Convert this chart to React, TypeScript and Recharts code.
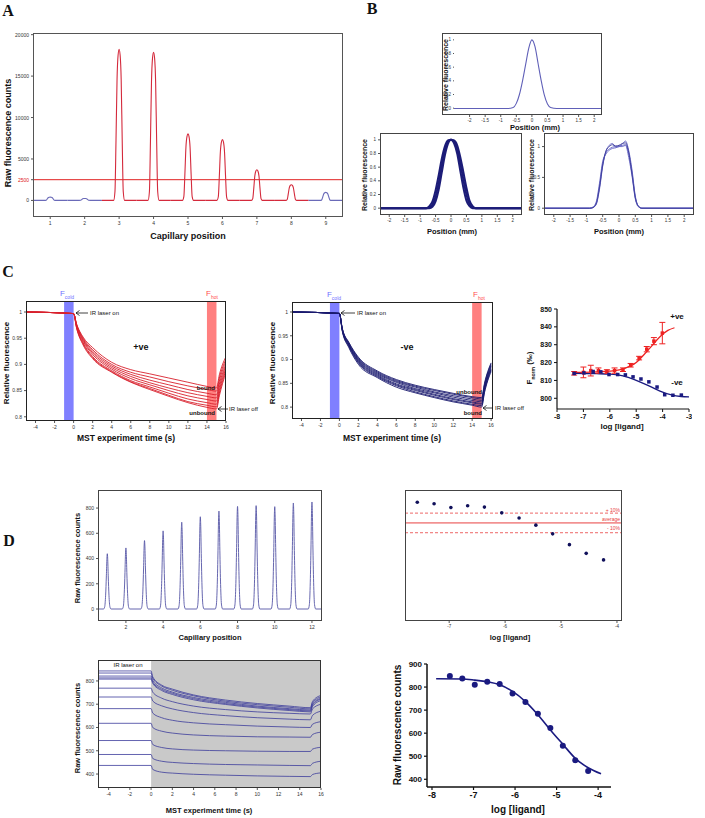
import React from 'react';
import { ComposedChart, Line, Scatter, XAxis, YAxis, ReferenceArea, ReferenceLine, ErrorBar } from 'recharts';

const FONT = '"Liberation Sans", Arial, Helvetica, sans-serif';

// ---------- A: capillary scan ----------
const aCapillaries = [1, 2, 3, 4, 5, 6, 7, 8, 9];
const aPeakCounts = [400, 240, 18240, 17880, 8030, 7340, 3700, 1900, 970];
const aAboveThreshold = [false, false, true, true, true, true, true, true, false];
const aPeakOffsets = [-0.5, -0.16, -0.12, -0.09, -0.06, -0.03, 0, 0.03, 0.06, 0.09, 0.12, 0.16, 0.5];
const aPeakShape = [0, 0, 0.06, 0.4, 0.8, 0.96, 1, 0.96, 0.8, 0.4, 0.06, 0, 0];
const aThreshold = 2500;
const aYTicks = [0, 2500, 5000, 10000, 15000, 20000];

// ---------- B: capillary shape ----------
const bTopX = [-2.5, -0.8, -0.6, -0.5, -0.4, -0.3, -0.2, -0.1, 0, 0.1, 0.2, 0.3, 0.4, 0.5, 0.6, 0.8, 2.25];
const bTopY = [-0.005, -0.005, 0.01, 0.07, 0.2, 0.4, 0.64, 0.88, 1.0, 0.9, 0.65, 0.4, 0.19, 0.06, 0.01, -0.005, -0.005];

const bLeftX = [-2.3, -0.8, -0.7, -0.6, -0.5, -0.4, -0.3, -0.2, -0.1, 0, 0.1, 0.2, 0.3, 0.4, 0.5, 0.6, 0.7, 0.8, 2.3];
const bLeftNarrow = [0, 0, 0, 0.02, 0.1, 0.27, 0.52, 0.77, 0.94, 1, 0.95, 0.8, 0.55, 0.3, 0.11, 0.03, 0, 0, 0];
const bLeftMid = [0, 0, 0.01, 0.05, 0.17, 0.37, 0.62, 0.84, 0.97, 1, 0.97, 0.86, 0.66, 0.42, 0.2, 0.06, 0.01, 0, 0];
const bLeftWide = [0, 0, 0.03, 0.1, 0.26, 0.48, 0.72, 0.9, 0.99, 1, 0.99, 0.92, 0.75, 0.53, 0.3, 0.11, 0.03, 0, 0];

const bRightX = [-2.3, -0.9, -0.8, -0.7, -0.6, -0.5, -0.4, -0.3, -0.2, -0.1, 0, 0.1, 0.2, 0.3, 0.4, 0.5, 0.6, 0.7, 2.3];
const bRight1 = [0, 0, 0.01, 0.08, 0.35, 0.72, 0.9, 0.96, 0.99, 1.0, 1.01, 1.02, 1.03, 0.88, 0.58, 0.18, 0.03, 0, 0];
const bRight2 = [0, 0, 0.01, 0.06, 0.3, 0.68, 0.92, 1.02, 1.05, 0.99, 1.0, 1.04, 1.09, 0.93, 0.62, 0.2, 0.03, 0, 0];
const bRight3 = [0, 0, 0.02, 0.1, 0.4, 0.76, 0.88, 0.94, 0.97, 0.98, 1.0, 1.0, 1.02, 0.82, 0.52, 0.15, 0.02, 0, 0];
const bRight4 = [0, 0, 0.01, 0.07, 0.33, 0.7, 0.93, 1.0, 1.03, 1.01, 1.02, 1.05, 1.06, 0.9, 0.55, 0.17, 0.03, 0, 0];

// ---------- C: MST traces and binding curves ----------
const cTime = [-5, 0, 0.3, 1, 2, 4, 6, 8, 10, 12, 14, 15, 15.3, 16];
const cPositive = [
    [1.0, 0.997, 0.978, 0.952, 0.932, 0.904, 0.890, 0.882, 0.874, 0.866, 0.858, 0.855, 0.880, 0.915],
    [1.0, 0.997, 0.977, 0.950, 0.928, 0.900, 0.885, 0.876, 0.867, 0.859, 0.852, 0.849, 0.874, 0.910],
    [1.0, 0.997, 0.976, 0.948, 0.925, 0.897, 0.881, 0.870, 0.861, 0.852, 0.845, 0.842, 0.868, 0.905],
    [1.0, 0.997, 0.975, 0.946, 0.922, 0.894, 0.877, 0.865, 0.855, 0.846, 0.839, 0.836, 0.862, 0.900],
    [1.0, 0.997, 0.974, 0.944, 0.919, 0.891, 0.873, 0.861, 0.850, 0.840, 0.833, 0.830, 0.856, 0.897],
    [1.0, 0.997, 0.972, 0.941, 0.915, 0.888, 0.869, 0.857, 0.845, 0.834, 0.827, 0.824, 0.850, 0.893],
    [1.0, 0.997, 0.971, 0.939, 0.913, 0.886, 0.867, 0.854, 0.841, 0.829, 0.822, 0.819, 0.845, 0.889],
    [1.0, 0.997, 0.970, 0.937, 0.911, 0.885, 0.866, 0.852, 0.839, 0.827, 0.818, 0.815, 0.840, 0.885],
];
const cNegative = [
    [1.0, 0.997, 0.966, 0.936, 0.905, 0.876, 0.858, 0.846, 0.837, 0.829, 0.822, 0.820, 0.850, 0.893],
    [1.0, 0.997, 0.965, 0.935, 0.903, 0.874, 0.856, 0.844, 0.835, 0.827, 0.820, 0.817, 0.847, 0.891],
    [1.0, 0.997, 0.965, 0.933, 0.901, 0.872, 0.854, 0.842, 0.832, 0.824, 0.817, 0.814, 0.844, 0.888],
    [1.0, 0.997, 0.964, 0.932, 0.899, 0.870, 0.852, 0.839, 0.830, 0.821, 0.814, 0.811, 0.841, 0.886],
    [1.0, 0.997, 0.963, 0.930, 0.897, 0.868, 0.849, 0.837, 0.827, 0.818, 0.811, 0.808, 0.838, 0.883],
    [1.0, 0.997, 0.962, 0.929, 0.895, 0.866, 0.847, 0.835, 0.825, 0.816, 0.809, 0.806, 0.836, 0.880],
    [1.0, 0.997, 0.961, 0.927, 0.893, 0.864, 0.845, 0.832, 0.822, 0.813, 0.806, 0.803, 0.833, 0.878],
    [1.0, 0.997, 0.960, 0.925, 0.890, 0.862, 0.842, 0.830, 0.820, 0.811, 0.804, 0.800, 0.830, 0.875],
];
const cPosLog = [-7.35, -7.0, -6.72, -6.43, -6.11, -5.82, -5.5, -5.21, -4.89, -4.6, -4.33, -4.01];
const cPosFnorm = [814, 814.5, 815.5, 815.5, 815, 815.5, 816, 818.5, 822.5, 827.5, 832, 836.5];
const cPosErr = [1, 3, 3, 1.5, 1, 1.5, 1, 1, 1, 1.5, 2, 6];
const cNegLog = [-7.35, -6.98, -6.63, -6.34, -6.03, -5.7, -5.41, -5.12, -4.82, -4.52, -4.21, -3.92, -3.61, -3.29];
const cNegFnorm = [813.9, 814.2, 815, 814.8, 813.3, 813.3, 813.1, 812, 810.8, 809.2, 806.3, 802, 801.7, 801.8];
const cPosFitX = [-7.35, -6.5, -6, -5.5, -5, -4.7, -4.4, -4.1, -3.8, -3.55];
const cPosFitY = [814.5, 814.8, 815.2, 816.5, 820, 824.5, 829.5, 834.5, 838, 839.5];
const cNegFitX = [-7.35, -6.5, -6, -5.5, -5, -4.5, -4.1, -3.7, -3.3, -2.95];
const cNegFitY = [814, 813.8, 813.5, 812.5, 810, 806.8, 804, 802, 801, 800.8];

// ---------- D: assay optimisation example ----------
const dCapillaries = [1, 2, 3, 4, 5, 6, 7, 8, 9, 10, 11, 12];
const dPeakCounts = [438, 484, 542, 619, 688, 731, 776, 813, 819, 811, 840, 848];
const dPeakOffsets = [-0.2, -0.14, -0.09, -0.05, -0.02, 0, 0.02, 0.05, 0.09, 0.14, 0.2];
const dPeakShape = [0, 0.04, 0.25, 0.6, 0.92, 1, 0.92, 0.6, 0.25, 0.04, 0];
const dLogLigand = [-7.57, -7.27, -6.97, -6.67, -6.37, -6.06, -5.75, -5.45, -5.15, -4.85, -4.55, -4.24];
const dCounts = [848, 837, 810, 823, 813, 772, 735, 684, 622, 545, 483, 436];
const dAverage = 700;
const dPlus10 = 770;
const dMinus10 = 630;
const dTime = [-5, 0, 0.15, 1, 2, 4, 7, 10, 13, 15, 15.2, 16];
const dTraces = [
    [843, 843, 818, 782, 765, 740, 718, 703, 692, 685, 712, 738],
    [834, 834, 812, 778, 760, 736, 713, 698, 687, 680, 706, 732],
    [821, 821, 802, 770, 752, 729, 708, 692, 681, 675, 700, 726],
    [813, 813, 795, 764, 747, 724, 703, 688, 677, 671, 696, 722],
    [808, 808, 790, 759, 742, 719, 699, 684, 673, 667, 690, 716],
    [769, 769, 752, 726, 711, 692, 677, 667, 661, 658, 680, 700],
    [731, 731, 714, 693, 680, 664, 651, 642, 636, 633, 652, 670],
    [681, 681, 662, 642, 631, 620, 612, 606, 602, 600, 614, 625],
    [618, 618, 600, 584, 576, 568, 563, 560, 559, 558, 570, 580],
    [544, 544, 527, 514, 508, 503, 500, 498, 497, 497, 507, 515],
    [484, 484, 467, 455, 450, 445, 441, 439, 437, 436, 446, 455],
    [437, 437, 420, 408, 404, 399, 395, 392, 390, 389, 398, 405],
];
const dFitX = [-7.9, -7.27, -6.97, -6.67, -6.37, -6.06, -5.75, -5.45, -5.15, -4.85, -4.55, -4.24, -3.93];
const dFitY = [836, 835, 830, 823, 810, 781, 737, 680, 614, 552, 491, 450, 424];

// ---------- helpers ----------
const zip = (xs: number[], ys: number[]) => xs.map((x, i) => ({ x, y: ys[i] }));

const aSegments = aCapillaries.map((c, i) => ({
    red: aAboveThreshold[i],
    pts: aPeakOffsets.map((o, j) => ({ x: c + o, y: aPeakCounts[i] * aPeakShape[j] })),
}));

const dScan = [
    { x: 0.5, y: 0 },
    ...dCapillaries.flatMap((c, i) => dPeakOffsets.map((o, j) => ({ x: c + o, y: dPeakCounts[i] * dPeakShape[j] }))),
    { x: 12.5, y: 0 },
];

const PAD = 3;

type PlotProps = { x: number; y: number; w: number; h: number; yW: number; xH: number; children: React.ReactNode };

const Plot = ({ x, y, w, h, yW, xH, children }: PlotProps) => (
    <div style={{ position: 'absolute', left: x - yW - PAD, top: y - PAD }}>
        <ComposedChart width={w + yW + 2 * PAD} height={h + xH + 2 * PAD} margin={{ top: PAD, right: PAD, bottom: PAD, left: PAD }}>
            {children}
        </ComposedChart>
    </div>
);

const Frame = ({ x, y, w, h, color = '#444' }: { x: number; y: number; w: number; h: number; color?: string }) => (
    <div style={{ position: 'absolute', left: x, top: y, width: w, height: h, border: `1px solid ${color}`, boxSizing: 'border-box', pointerEvents: 'none' }} />
);

type TextProps = { x: number; y: number; size?: number; bold?: boolean; color?: string; align?: 'center' | 'left' | 'right'; serif?: boolean; children: React.ReactNode };

const Txt = ({ x, y, size = 8, bold = false, color = '#111', align = 'center', serif = false, children }: TextProps) => {
    const tx = align === 'center' ? '-50%' : align === 'right' ? '-100%' : '0';
    return (
        <div
            style={{
                position: 'absolute', left: x, top: y, whiteSpace: 'nowrap', lineHeight: 1,
                transform: `translate(${tx}, -50%)`,
                fontSize: size, fontWeight: bold ? 700 : 400, color,
                fontFamily: serif ? '"Liberation Serif", "Times New Roman", serif' : FONT,
            }}
        >
            {children}
        </div>
    );
};

const VTitle = ({ x, y, size = 8, children }: { x: number; y: number; size?: number; children: React.ReactNode }) => (
    <div style={{ position: 'absolute', left: x, top: y, width: 0, height: 0 }}>
        <div style={{ position: 'absolute', left: 0, top: 0, transform: 'translate(-50%, -50%) rotate(-90deg)', whiteSpace: 'nowrap', fontFamily: FONT, fontWeight: 700, fontSize: size, color: '#111', lineHeight: 1 }}>
            {children}
        </div>
    </div>
);

const ArrowLeft = ({ tipX, y, len }: { tipX: number; y: number; len: number }) => (
    <svg style={{ position: 'absolute', left: tipX - 1, top: y - 4, overflow: 'visible' }} width={len + 2} height={8}>
        <line x1={1} y1={4} x2={len + 1} y2={4} stroke="#111" strokeWidth={0.8} />
        <polyline points="4.5,1.5 1,4 4.5,6.5" fill="none" stroke="#111" strokeWidth={0.8} />
    </svg>
);

const tiny = { fontSize: 5, fill: '#333', fontFamily: FONT };
const boldTick = (size: number) => ({ fontSize: size, fill: '#111', fontFamily: FONT, fontWeight: 700 });

const ATick = (props: any) => {
    const { x, y, payload } = props;
    return (
        <text x={x} y={y} dy={2} textAnchor="end" fontSize={5} fontFamily={FONT} fill={payload.value === aThreshold ? '#e02020' : '#333'}>
            {payload.value}
        </text>
    );
};

const Sq = (color: string, s: number) => (p: any) => <rect x={p.cx - s / 2} y={p.cy - s / 2} width={s} height={s} fill={color} />;
const Dot = (color: string, r: number) => (p: any) => <circle cx={p.cx} cy={p.cy} r={r} fill={color} />;

const ln = (key: string, pts: { x: number; y: number }[], stroke: string, width = 1) => (
    <Line key={key} data={pts} dataKey="y" type="monotone" stroke={stroke} strokeWidth={width} dot={false} isAnimationActive={false} />
);

const App = () => {
    return (
        <div style={{ position: 'absolute', left: 0, top: 0, width: 705, height: 818, background: '#fff', overflow: 'hidden', fontFamily: FONT }}>
            {/* panel letters */}
            <Txt x={8} y={11} size={16} bold serif>A</Txt>
            <Txt x={372} y={9} size={16} bold serif>B</Txt>
            <Txt x={8} y={272} size={16} bold serif>C</Txt>
            <Txt x={9} y={541} size={16} bold serif>D</Txt>

            {/* ---------- A ---------- */}
            <Plot x={33} y={33} w={310} h={184} yW={26} xH={14}>
                <XAxis type="number" dataKey="x" domain={[0.5, 9.5]} ticks={aCapillaries} allowDataOverflow interval={0} height={14} axisLine={false} tickSize={2} tick={tiny} tickLine={{ stroke: '#555' }} />
                <YAxis type="number" dataKey="y" domain={[-2000, 20200]} ticks={aYTicks} allowDataOverflow interval={0} width={26} axisLine={false} tickSize={2} tick={<ATick />} tickLine={{ stroke: '#555' }} />
                <ReferenceLine y={aThreshold} stroke="#e02020" strokeWidth={1} />
                {aSegments.map((s, i) => ln(`a${i}`, s.pts, s.red ? '#d42a3c' : '#6a6ab8', 1.1))}
            </Plot>
            <Frame x={33} y={33} w={310} h={184} color="#555" />
            <VTitle x={8} y={133} size={9}>Raw fluorescence counts</VTitle>
            <Txt x={188} y={236} size={9} bold>Capillary position</Txt>

            {/* ---------- B ---------- */}
            <Plot x={454} y={33} w={148} h={82} yW={10} xH={12}>
                <XAxis type="number" dataKey="x" domain={[-2.5, 2.25]} ticks={[-2, -1.5, -1, -0.5, 0, 0.5, 1, 1.5, 2]} allowDataOverflow interval={0} height={12} axisLine={false} tickSize={2} tick={{ ...tiny, fontSize: 4.5 }} tickLine={{ stroke: '#555' }} />
                <YAxis type="number" dataKey="y" domain={[-0.1, 1.1]} ticks={[0, 0.2, 0.4, 0.6, 0.8, 1]} allowDataOverflow interval={0} width={10} axisLine={false} tickSize={1} tick={{ ...tiny, fontSize: 4.5 }} tickLine={{ stroke: '#555' }} />
                {ln('bt', zip(bTopX, bTopY), '#6060b8', 1.1)}
            </Plot>
            <Frame x={442} y={33} w={160} h={82} color="#444" />
            <VTitle x={445} y={75} size={7}>Relative fluorescence</VTitle>
            <Txt x={535} y={128} size={7.5} bold>Position (mm)</Txt>

            <Plot x={380} y={133} w={142} h={82} yW={14} xH={12}>
                <XAxis type="number" dataKey="x" domain={[-2.3, 2.3]} ticks={[-2, -1.5, -1, -0.5, 0, 0.5, 1, 1.5, 2]} allowDataOverflow interval={0} height={12} axisLine={false} tickSize={2} tick={{ ...tiny, fontSize: 4.5 }} tickLine={{ stroke: '#555' }} />
                <YAxis type="number" dataKey="y" domain={[-0.1, 1.1]} ticks={[0, 0.2, 0.4, 0.6, 0.8, 1]} allowDataOverflow interval={0} width={14} axisLine={false} tickSize={2} tick={{ ...tiny, fontSize: 4.5 }} tickLine={{ stroke: '#555' }} />
                {ln('bl1', zip(bLeftX, bLeftWide), '#1c1c78', 2)}
                {ln('bl2', zip(bLeftX, bLeftMid), '#1c1c78', 2)}
                {ln('bl3', zip(bLeftX, bLeftNarrow), '#1c1c78', 2)}
            </Plot>
            <Frame x={380} y={133} w={142} h={82} color="#444" />
            <VTitle x={364} y={175} size={7}>Relative fluorescence</VTitle>
            <Txt x={452} y={232} size={7.5} bold>Position (mm)</Txt>

            <Plot x={544} y={133} w={150} h={82} yW={14} xH={12}>
                <XAxis type="number" dataKey="x" domain={[-2.3, 2.3]} ticks={[-2, -1.5, -1, -0.5, 0, 0.5, 1, 1.5, 2]} allowDataOverflow interval={0} height={12} axisLine={false} tickSize={2} tick={{ ...tiny, fontSize: 4.5 }} tickLine={{ stroke: '#555' }} />
                <YAxis type="number" dataKey="y" domain={[-0.11, 1.22]} ticks={[0, 0.5, 1]} allowDataOverflow interval={0} width={14} axisLine={false} tickSize={2} tick={{ ...tiny, fontSize: 4.5 }} tickLine={{ stroke: '#555' }} />
                {ln('br1', zip(bRightX, bRight1), '#6464c4', 0.9)}
                {ln('br2', zip(bRightX, bRight2), '#6464c4', 0.9)}
                {ln('br3', zip(bRightX, bRight3), '#6464c4', 0.9)}
                {ln('br4', zip(bRightX, bRight4), '#3a3a98', 0.9)}
            </Plot>
            <Frame x={544} y={133} w={150} h={82} color="#444" />
            <VTitle x={531} y={175} size={7}>Relative fluorescence</VTitle>
            <Txt x={619} y={232} size={7.5} bold>Position (mm)</Txt>

            {/* ---------- C left (+ve) ---------- */}
            <Plot x={26} y={301} w={200} h={120} yW={18} xH={12}>
                <XAxis type="number" dataKey="x" domain={[-5, 16]} ticks={[-4, -2, 0, 2, 4, 6, 8, 10, 12, 14, 16]} allowDataOverflow interval={0} height={12} axisLine={false} tickSize={2} tick={tiny} tickLine={{ stroke: '#555' }} />
                <YAxis type="number" dataKey="y" domain={[0.792, 1.021]} ticks={[0.8, 0.85, 0.9, 0.95, 1]} allowDataOverflow interval={0} width={18} axisLine={false} tickSize={2} tick={tiny} tickLine={{ stroke: '#555' }} />
                <ReferenceArea x1={-1} x2={0} fill="#8080ff" fillOpacity={1} stroke="none" />
                <ReferenceArea x1={14} x2={15} fill="#ff8080" fillOpacity={1} stroke="none" />
                {cPositive.map((t, i) => ln(`cp${i}`, zip(cTime, t), '#d8202c', 0.9))}
            </Plot>
            <Frame x={26} y={301} w={200} h={120} color="#222" />
            <Txt x={67} y={295} size={8} color="#7070ff">F<sub style={{ fontSize: 5 }}>cold</sub></Txt>
            <Txt x={212} y={295} size={8} color="#ff5050">F<sub style={{ fontSize: 5 }}>hot</sub></Txt>
            <ArrowLeft tipX={76} y={313} len={12} />
            <Txt x={90} y={313} size={6} align="left">IR laser on</Txt>
            <Txt x={141} y={347} size={9} bold>+ve</Txt>
            <Txt x={215} y={388} size={6} bold align="right">bound</Txt>
            <Txt x={215} y={413} size={6} bold align="right">unbound</Txt>
            <ArrowLeft tipX={218} y={409} len={10} />
            <Txt x={229} y={409} size={6} align="left">IR laser off</Txt>
            <VTitle x={7} y={363} size={8}>Relative fluorescence</VTitle>
            <Txt x={126} y={438} size={8.5} bold>MST experiment time (s)</Txt>

            {/* ---------- C middle (-ve) ---------- */}
            <Plot x={292} y={302} w={201} h={117} yW={18} xH={12}>
                <XAxis type="number" dataKey="x" domain={[-5, 16.2]} ticks={[-4, -2, 0, 2, 4, 6, 8, 10, 12, 14, 16]} allowDataOverflow interval={0} height={12} axisLine={false} tickSize={2} tick={tiny} tickLine={{ stroke: '#555' }} />
                <YAxis type="number" dataKey="y" domain={[0.775, 1.021]} ticks={[0.8, 0.85, 0.9, 0.95, 1]} allowDataOverflow interval={0} width={18} axisLine={false} tickSize={2} tick={tiny} tickLine={{ stroke: '#555' }} />
                <ReferenceArea x1={-1} x2={0} fill="#8080ff" fillOpacity={1} stroke="none" />
                <ReferenceArea x1={14} x2={15} fill="#ff8080" fillOpacity={1} stroke="none" />
                {cNegative.map((t, i) => ln(`cn${i}`, zip(cTime, t), '#1a1a6e', 0.9))}
            </Plot>
            <Frame x={292} y={302} w={201} h={117} color="#222" />
            <Txt x={334} y={296} size={8} color="#7070ff">F<sub style={{ fontSize: 5 }}>cold</sub></Txt>
            <Txt x={479} y={296} size={8} color="#ff5050">F<sub style={{ fontSize: 5 }}>hot</sub></Txt>
            <ArrowLeft tipX={341} y={313} len={14} />
            <Txt x={357} y={313} size={6} align="left">IR laser on</Txt>
            <Txt x={407} y={347} size={9} bold>-ve</Txt>
            <Txt x={482} y={392} size={6} bold align="right">unbound</Txt>
            <Txt x={482} y={413} size={6} bold align="right">bound</Txt>
            <ArrowLeft tipX={483} y={408} len={10} />
            <Txt x={495} y={408} size={6} align="left">IR laser off</Txt>
            <VTitle x={273} y={363} size={8}>Relative fluorescence</VTitle>
            <Txt x={392} y={438} size={8.5} bold>MST experiment time (s)</Txt>

            {/* ---------- C right (binding curves) ---------- */}
            <Plot x={557} y={309} w={132} h={100} yW={22} xH={14}>
                <XAxis type="number" dataKey="x" domain={[-8, -3]} ticks={[-8, -7, -6, -5, -4, -3]} allowDataOverflow interval={0} height={14} axisLine={{ stroke: '#111', strokeWidth: 1.2 }} tickSize={3} tick={boldTick(7)} tickLine={{ stroke: '#111' }} />
                <YAxis type="number" dataKey="y" domain={[794, 850]} ticks={[800, 810, 820, 830, 840, 850]} allowDataOverflow interval={0} width={22} axisLine={{ stroke: '#111', strokeWidth: 1.2 }} tickSize={3} tick={boldTick(7)} tickLine={{ stroke: '#111' }} />
                {ln('cfp', zip(cPosFitX, cPosFitY), '#ee2222', 1.3)}
                {ln('cfn', zip(cNegFitX, cNegFitY), '#1a1a80', 1.3)}
                <Scatter data={cPosLog.map((x, i) => ({ x, y: cPosFnorm[i], err: cPosErr[i] }))} dataKey="y" fill="#ee2222" isAnimationActive={false} shape={Sq('#ee2222', 3.5)}>
                    <ErrorBar dataKey="err" direction="y" width={3} stroke="#ee2222" strokeWidth={1} />
                </Scatter>
                <Scatter data={zip(cNegLog, cNegFnorm)} dataKey="y" fill="#1a1a80" isAnimationActive={false} shape={Sq('#1a1a80', 3.5)} />
            </Plot>
            <Txt x={677} y={317} size={8} bold>+ve</Txt>
            <Txt x={677} y={383} size={8} bold>-ve</Txt>
            <VTitle x={531} y={368} size={8}>F<sub style={{ fontSize: 5 }}>norm</sub> (‰)</VTitle>
            <Txt x={622} y={427} size={8} bold>log [ligand]</Txt>

            {/* ---------- D top-left ---------- */}
            <Plot x={98} y={490} w={224} h={131} yW={16} xH={12}>
                <XAxis type="number" dataKey="x" domain={[0.5, 12.54]} ticks={[2, 4, 6, 8, 10, 12]} allowDataOverflow interval={0} height={12} axisLine={false} tickSize={2} tick={tiny} tickLine={{ stroke: '#555' }} />
                <YAxis type="number" dataKey="y" domain={[-95, 943]} ticks={[0, 200, 400, 600, 800]} allowDataOverflow interval={0} width={16} axisLine={false} tickSize={2} tick={tiny} tickLine={{ stroke: '#555' }} />
                {ln('dscan', dScan, '#5656a6', 0.9)}
            </Plot>
            <Frame x={98} y={490} w={224} h={131} color="#444" />
            <VTitle x={78} y={558} size={7.5}>Raw fluorescence counts</VTitle>
            <Txt x={210} y={638} size={7.5} bold>Capillary position</Txt>

            {/* ---------- D top-right ---------- */}
            <Plot x={405} y={490} w={217} h={131} yW={0} xH={12}>
                <XAxis type="number" dataKey="x" domain={[-7.79, -3.91]} ticks={[-7, -6, -5, -4]} allowDataOverflow interval={0} height={12} axisLine={false} tickSize={2} tick={{ ...tiny, fontSize: 4.5 }} tickLine={{ stroke: '#555' }} />
                <YAxis type="number" dataKey="y" domain={[0, 935]} allowDataOverflow hide />
                <ReferenceLine y={dPlus10} stroke="#e84040" strokeDasharray="3 2" strokeWidth={0.8} />
                <ReferenceLine y={dAverage} stroke="#e84040" strokeWidth={1} />
                <ReferenceLine y={dMinus10} stroke="#e84040" strokeDasharray="3 2" strokeWidth={0.8} />
                <Scatter data={zip(dLogLigand, dCounts)} dataKey="y" fill="#10105a" isAnimationActive={false} shape={Dot('#10105a', 1.8)} />
            </Plot>
            <Frame x={405} y={490} w={217} h={131} color="#444" />
            <Txt x={620} y={510} size={5} color="#e84040" align="right">+ 10%</Txt>
            <Txt x={620} y={519} size={5} color="#e84040" align="right">average</Txt>
            <Txt x={620} y={528} size={5} color="#e84040" align="right">- 10%</Txt>
            <Txt x={510} y={638} size={7.5} bold>log [ligand]</Txt>

            {/* ---------- D bottom-left ---------- */}
            <Plot x={98} y={660} w={223} h={128} yW={16} xH={12}>
                <XAxis type="number" dataKey="x" domain={[-5, 16]} ticks={[-4, -2, 0, 2, 4, 6, 8, 10, 12, 14, 16]} allowDataOverflow interval={0} height={12} axisLine={false} tickSize={2} tick={tiny} tickLine={{ stroke: '#555' }} />
                <YAxis type="number" dataKey="y" domain={[340, 890]} ticks={[400, 500, 600, 700, 800]} allowDataOverflow interval={0} width={16} axisLine={false} tickSize={2} tick={tiny} tickLine={{ stroke: '#555' }} />
                <ReferenceArea x1={0} x2={16} fill="#c9c9c9" fillOpacity={1} stroke="none" />
                {dTraces.map((t, i) => ln(`dt${i}`, zip(dTime, t), '#3c3c9c', 0.8))}
            </Plot>
            <Frame x={98} y={660} w={223} h={128} color="#333" />
            <Txt x={128} y={665} size={6}>IR laser on</Txt>
            <VTitle x={78} y={728} size={7.5}>Raw fluorescence counts</VTitle>
            <Txt x={209} y={811} size={7.5} bold>MST experiment time (s)</Txt>

            {/* ---------- D bottom-right ---------- */}
            <Plot x={427} y={664} w={184} h={123} yW={26} xH={16}>
                <XAxis type="number" dataKey="x" domain={[-8.12, -3.69]} ticks={[-8, -7, -6, -5, -4]} allowDataOverflow interval={0} height={16} axisLine={{ stroke: '#111', strokeWidth: 1.5 }} tickSize={3} tick={boldTick(9)} tickLine={{ stroke: '#111', strokeWidth: 1.2 }} />
                <YAxis type="number" dataKey="y" domain={[366.5, 900]} ticks={[400, 500, 600, 700, 800, 900]} allowDataOverflow interval={0} width={26} axisLine={{ stroke: '#111', strokeWidth: 1.5 }} tickSize={3} tick={boldTick(8)} tickLine={{ stroke: '#111', strokeWidth: 1.2 }} />
                {ln('dfit', zip(dFitX, dFitY), '#1a1a80', 1.6)}
                <Scatter data={zip(dLogLigand, dCounts)} dataKey="y" fill="#1a1a80" isAnimationActive={false} shape={Dot('#1a1a80', 3)} />
            </Plot>
            <VTitle x={398} y={725} size={10}>Raw fluorescence counts</VTitle>
            <Txt x={518} y={810} size={10} bold>log [ligand]</Txt>
        </div>
    );
};

export default App;
